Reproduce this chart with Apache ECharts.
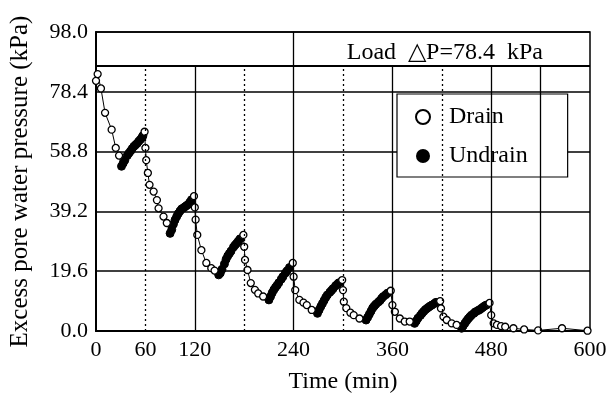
<!DOCTYPE html>
<html>
<head>
<meta charset="utf-8">
<script src="https://cdn.jsdelivr.net/npm/echarts@6/dist/echarts.min.js"></script>
<style>html,body{margin:0;padding:0;background:#fff;}#c{width:614px;height:408px;}</style>
</head>
<body>
<div id="c"></div>
<script>
// ---- data ----
const xLabelsShown = [0, 60, 120, 240, 360, 480, 600];
const yTickStep = 19.6;
const loadLevel = 87; // level of the "Load" band line
const solidGridTimes = [120, 240, 360, 480, 540];
const dashedGridTimes = [60, 180, 300, 420];

const drainSegments = [
  [[0,82],[2,84.2],[6,79.5],[11,71.5],[19,66],[24,60],[28,57.5]],
  [[59,65.3],[60,60],[61,56],[63,51.8],[65,47.9],[70,45.7],[74,42.9],[76,40.2],[82,37.5],[86,35.4]],
  [[119,44.2],[120,40.5],[121,36.5],[123,31.5],[128,26.5],[134,22.3],[140,20.6],[144,19.8]],
  [[179,31.5],[180,27.6],[181,23.3],[184,20],[188,15.7],[193,13.5],[197,12.3],[203,11.3]],
  [[239,22.3],[240,17.8],[242,13.4],[247,10.2],[252,9.3],[256,8.5],[262,6.9]],
  [[299,16.7],[300,13.4],[301,9.6],[304,7.5],[309,6],[313,5.2],[320,4.1]],
  [[358,13.2],[360,8.5],[363,6.3],[369,4.1],[375,3.1],[381,3.1]],
  [[418,9.8],[419,7.4],[422,4.7],[426,3.6],[432,2.5],[438,2]],
  [[478,9.2],[480,5.2],[483,2.5],[487,2],[492,1.6],[497,1.4],[507,0.9],[520,0.5],[537,0.2],[566,0.9],[597,0.1]]
];
const undrainSegments = [
  [[31,54],[33,55],[35,56],[38,57.5],[40,58.3],[42,59],[44,59.8],[46,60.5],[48,61],[50,61.5],[52,62.2],[54,62.8],[56,63.5],[57,64]],
  [[90,32],[92,33.2],[94,35],[96,36.4],[98,37.5],[100,38.5],[102,39.3],[104,40],[106,40.3],[108,40.7],[110,41.1],[112,41.5],[114,42.2],[116,43]],
  [[149,18.4],[151,19],[153,20.2],[156,22],[158,23.5],[160,24.6],[162,25.4],[164,26.2],[167,27.5],[169,28.2],[171,28.8],[173,29.5],[175,30.2]],
  [[210,10.2],[212,11.3],[214,12.5],[216,13.5],[218,14.3],[220,15],[222,15.8],[225,17],[227,17.8],[230,19],[232,19.7],[235,20.8]],
  [[269,5.8],[271,6.9],[273,8],[275,9],[277,10],[279,11],[281,11.8],[284,12.7],[286,13.3],[288,13.9],[291,14.8],[293,15.3],[295,15.8]],
  [[328,3.6],[330,4.5],[332,5.5],[334,6.5],[336,7.5],[338,8.2],[340,8.8],[343,9.5],[345,10],[347,10.7],[349,11.3],[352,11.9],[354,12.4]],
  [[387,2.5],[389,3.3],[391,4.2],[394,5.1],[396,5.8],[398,6.4],[400,7],[402,7.4],[404,7.8],[406,8.2],[408,8.5],[411,9],[413,9.4]],
  [[444,0.9],[446,1.7],[448,2.5],[450,3.3],[452,4],[454,4.6],[456,5.2],[459,5.8],[461,6.3],[464,6.7],[466,7],[468,7.4],[470,7.8],[472,8.2],[474,8.5]]
];

// ---- chart ----
const FONT = "'Liberation Serif','Times New Roman',serif";
const chart = echarts.init(document.getElementById('c'), null, {renderer: 'canvas'});

const series = [];
drainSegments.forEach((seg, i) => {
  const data = seg.map(p => ({value: p}));
  if (undrainSegments[i]) data.push({value: undrainSegments[i][0], symbol: 'none'});
  series.push({
    name: 'Drain', type: 'line', data: data, z: 3,
    symbol: 'circle', symbolSize: 7,
    itemStyle: {color: '#fff', borderColor: '#000', borderWidth: 1.3},
    lineStyle: {color: '#000', width: 1},
    animation: false
  });
});
undrainSegments.forEach((seg, i) => {
  const data = seg.map(p => ({value: p}));
  if (drainSegments[i + 1]) data.push({value: drainSegments[i + 1][0], symbol: 'none'});
  series.push({
    name: 'Undrain', type: 'line', data: data, z: 2,
    symbol: 'circle', symbolSize: 8,
    itemStyle: {color: '#000', borderColor: '#000'},
    lineStyle: {color: '#000', width: 2},
    animation: false
  });
});

// grid lines drawn via axis scales
const gridLines = [];
solidGridTimes.forEach(t => gridLines.push([
  {coord: [t, 0], lineStyle: {type: 'solid', width: 1.3, color: '#000'}},
  {coord: [t, t === 240 ? 98 : loadLevel]}
]));
dashedGridTimes.forEach(t => gridLines.push([
  {coord: [t, 0], lineStyle: {type: [2, 3], width: 1.3, color: '#000'}},
  {coord: [t, loadLevel]}
]));
gridLines.push([
  {coord: [0, loadLevel], lineStyle: {type: 'solid', width: 2, color: '#000'}},
  {coord: [600, loadLevel]}
]);
series.push({
  name: 'grid', type: 'line', data: [], silent: true, z: 1,
  markLine: {silent: true, symbol: 'none', label: {show: false}, animation: false, data: gridLines}
});

chart.setOption({
  animation: false,
  backgroundColor: '#fff',
  textStyle: {fontFamily: FONT, color: '#000'},
  title: {
    text: 'Load  \u25B3P=78.4  kPa',
    right: 66, top: 36,
    textStyle: {fontFamily: FONT, fontSize: 24, fontWeight: 'normal', color: '#000'}
  },
  grid: {left: 96, right: 24, top: 32, bottom: 77, show: true, borderColor: '#000', borderWidth: 1.5},
  legend: {
    data: ['Drain', 'Undrain'],
    orient: 'vertical', left: 397, top: 94,
    padding: [11, 40, 9, 18],
    itemGap: 15, itemWidth: 14, itemHeight: 14,
    icon: 'circle',
    backgroundColor: '#fff', borderColor: '#000', borderWidth: 1.2,
    textStyle: {fontFamily: FONT, fontSize: 24, color: '#000', padding: [0, 0, 0, 14]}
  },
  xAxis: {
    type: 'value', min: 0, max: 600, interval: 60,
    name: 'Time (min)', nameLocation: 'middle', nameGap: 39,
    nameTextStyle: {fontFamily: FONT, fontSize: 24, color: '#000'},
    axisLine: {lineStyle: {color: '#000', width: 2}},
    axisTick: {show: false},
    splitLine: {show: false},
    axisLabel: {
      fontFamily: FONT, fontSize: 22, color: '#000', margin: 8,
      formatter: v => xLabelsShown.indexOf(v) >= 0 ? String(v) : ''
    }
  },
  yAxis: {
    type: 'value', min: 0, max: 98, interval: yTickStep,
    name: 'Excess pore water pressure (kPa)', nameLocation: 'middle', nameGap: 63,
    nameTextStyle: {fontFamily: FONT, fontSize: 25, color: '#000'},
    axisLine: {show: true, lineStyle: {color: '#000', width: 2}},
    axisTick: {show: false},
    splitLine: {show: true, lineStyle: {color: '#000', width: 1.5}},
    axisLabel: {
      fontFamily: FONT, fontSize: 22, color: '#000', margin: 8,
      formatter: v => v.toFixed(1)
    }
  },
  series: series
});
</script>
</body>
</html>
